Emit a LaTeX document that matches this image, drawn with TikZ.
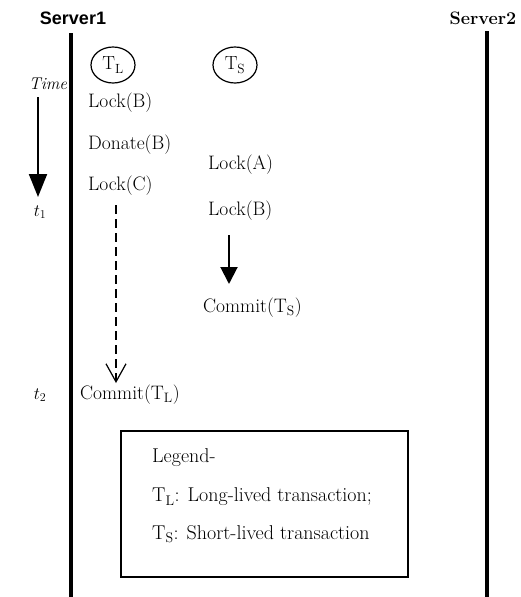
\documentclass[tikz,border=0pt]{standalone}
\usepackage{fontspec}
\usetikzlibrary{arrows.meta,shapes.geometric}
\newfontfamily\hdsans{Liberation Sans}
\begin{document}
\begin{tikzpicture}[x=1pt,y=-1pt,
  txt/.style={anchor=west,inner sep=0pt,font=\fontsize{19.5}{22}\selectfont},
  tlabel/.style={inner sep=0pt,font=\fontsize{17}{20}\selectfont\itshape},
  server/.style={line width=4pt},
  txnode/.style={draw,ellipse,line width=1.2pt,minimum width=44pt,minimum height=36pt,inner sep=0pt,font=\fontsize{19}{22}\selectfont},
  legtxt/.style={anchor=west,inner sep=0pt,font=\fontsize{20}{23}\selectfont}]
\useasboundingbox (0,0) rectangle (520,597);
% servers
\node[inner sep=0pt,font=\hdsans\bfseries\fontsize{18}{21}\selectfont] (s1) at (73,18) {Server1};
\node[inner sep=0pt,font=\fontsize{18}{21}\selectfont\bfseries] (s2) at (483,18) {Server2};
\coordinate (s1t) at (71,33);
\coordinate (s1b) at (71,597);
\coordinate (s2t) at (487,31);
\coordinate (s2b) at (487,597);
\draw[server] (s1t) -- (s1b);
\draw[server] (s2t) -- (s2b);
% transactions
\node[txnode] (tl) at (113,65) {$\mathrm{T}_{\mathrm{L}}$};
\node[txnode] (ts) at (235,65) {$\mathrm{T}_{\mathrm{S}}$};
% time axis
\node[tlabel] (time) at (48,84) {Time};
\coordinate (ta) at (38,97);
\coordinate (tb) at (38,197);
\draw[line width=2pt,-{Triangle[width=18pt,length=23pt]}] (ta) -- (tb);
\node[tlabel] (t1) at (40,212) {$t_1$};
\node[tlabel] (t2) at (40,395) {$t_2$};
% T_L operations
\node[txt] (lb) at (88,103) {Lock(B)};
\node[txt] (db) at (88,145) {Donate(B)};
\node[txt] (lc) at (88,186) {Lock(C)};
\node[txt] (ctl) at (80,395) {Commit($\mathrm{T}_{\mathrm{L}}$)};
% T_S operations
\node[txt] (la) at (208,165) {Lock(A)};
\node[txt] (lb2) at (208,211) {Lock(B)};
\node[txt] (cts) at (203,308) {Commit($\mathrm{T}_{\mathrm{S}}$)};
% arrows
\coordinate (da) at (116,205);
\coordinate (db2) at (116,383);
\draw[line width=1.2pt,dash pattern=on 9pt off 5pt,-{Straight Barb[width=20pt,length=18pt,line width=1.2pt]}] (da) -- (db2);
\coordinate (sa) at (229,235);
\coordinate (sb) at (229,284);
\draw[line width=2pt,-{Triangle[width=17pt,length=17pt]}] (sa) -- (sb);
% legend
\draw[line width=1.5pt] (121,431) rectangle (408,577);
\node[legtxt] (lg) at (152,458) {Legend-};
\node[legtxt] (lg1) at (152,497) {$\mathrm{T}_{\mathrm{L}}$: Long-lived transaction;};
\node[legtxt] (lg2) at (152,534) {$\mathrm{T}_{\mathrm{S}}$: Short-lived transaction};
\end{tikzpicture}
\end{document}
